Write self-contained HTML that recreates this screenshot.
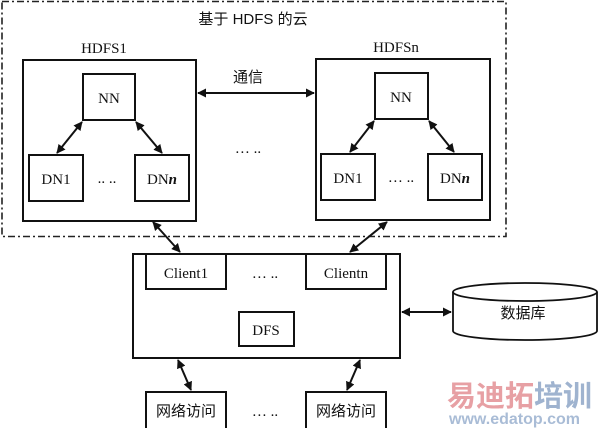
<!DOCTYPE html>
<html><head><meta charset="utf-8"><style>
html,body{margin:0;padding:0;background:#fff;width:600px;height:428px;overflow:hidden}
text{font-family:"Liberation Serif","Noto Serif CJK SC",serif;fill:#111;font-size:15px}
.cj{font-family:"Liberation Sans","Noto Sans CJK SC",sans-serif;font-size:15px}
.m{text-anchor:middle}
</style></head><body>
<svg width="600" height="428" viewBox="0 0 600 428" xmlns="http://www.w3.org/2000/svg" style="display:block">
<defs>
<marker id="a" viewBox="0 0 10 10" refX="9" refY="5" markerWidth="4.5" markerHeight="4.5" orient="auto-start-reverse"><path d="M0,0L10,5L0,10z" fill="#111"/></marker>
</defs>
<rect x="2" y="1.5" width="504" height="235" fill="none" stroke="#222" stroke-width="1.6" stroke-dasharray="7,3,2,3"/>
<g fill="#fff" stroke="#111" stroke-width="2">
<rect x="23" y="60" width="173" height="161"/>
<rect x="83" y="74" width="52" height="46"/>
<rect x="29" y="155" width="54" height="46"/>
<rect x="135" y="155" width="54" height="46"/>
<rect x="316" y="59" width="174" height="161"/>
<rect x="375" y="73" width="53" height="46"/>
<rect x="321" y="154" width="54" height="46"/>
<rect x="428" y="154" width="54" height="46"/>
<rect x="133" y="254" width="267" height="104"/>
<rect x="146" y="254" width="80" height="35"/>
<rect x="306" y="254" width="80" height="35"/>
<rect x="239" y="312" width="55" height="34"/>
<rect x="146" y="392" width="80" height="37"/>
<rect x="306" y="392" width="80" height="37"/>
</g>
<g fill="#fff" stroke="#111" stroke-width="1.8">
<path d="M453,292 V331 A72,9 0 0 0 597,331 V292"/>
<ellipse cx="525" cy="292" rx="72" ry="9"/>
</g>
<g stroke="#111" stroke-width="2" marker-start="url(#a)" marker-end="url(#a)">
<line x1="198" y1="93" x2="314" y2="93"/>
<line x1="82" y1="122" x2="57" y2="153"/>
<line x1="136" y1="122" x2="162" y2="153"/>
<line x1="374" y1="121" x2="350" y2="152"/>
<line x1="429" y1="121" x2="454" y2="152"/>
<line x1="153" y1="222" x2="180" y2="252"/>
<line x1="387" y1="222" x2="350" y2="252"/>
<line x1="402" y1="312" x2="451" y2="312"/>
<line x1="178" y1="360" x2="191" y2="390"/>
<line x1="360" y1="360" x2="347" y2="390"/>
</g>
<text x="253" y="24" class="cj m">基于 HDFS 的云</text>
<text x="104" y="53" class="m">HDFS1</text>
<text x="396" y="52" class="m">HDFSn</text>
<text x="248" y="82" class="cj m">通信</text>
<text x="248" y="153" class="m">… ..</text>
<text x="109" y="103" class="m">NN</text>
<text x="401" y="102" class="m">NN</text>
<text x="56" y="184" class="m">DN1</text>
<text x="162" y="184" class="m">DN<tspan font-style="italic" font-weight="bold">n</tspan></text>
<text x="348" y="183" class="m">DN1</text>
<text x="455" y="183" class="m">DN<tspan font-style="italic" font-weight="bold">n</tspan></text>
<text x="107" y="183" class="m">.. ..</text>
<text x="401" y="182" class="m">… ..</text>
<text x="186" y="278" class="m">Client1</text>
<text x="346" y="278" class="m">Clientn</text>
<text x="265" y="278" class="m">… ..</text>
<text x="266" y="335" class="m">DFS</text>
<text x="523" y="318" class="cj m">数据库</text>
<text x="186" y="416" class="cj m">网络访问</text>
<text x="346" y="416" class="cj m">网络访问</text>
<text x="265" y="416" class="m">… ..</text>
<text x="447" y="406" class="cj" style="font-size:29px;font-weight:bold;fill:#e7a0a4">易迪拓<tspan style="fill:#9fb3cf">培训</tspan></text>
<text x="449" y="424" class="cj" style="font-size:16px;font-weight:bold;fill:#a9bcd6">www.edatop.com</text>
</svg>
</body></html>
